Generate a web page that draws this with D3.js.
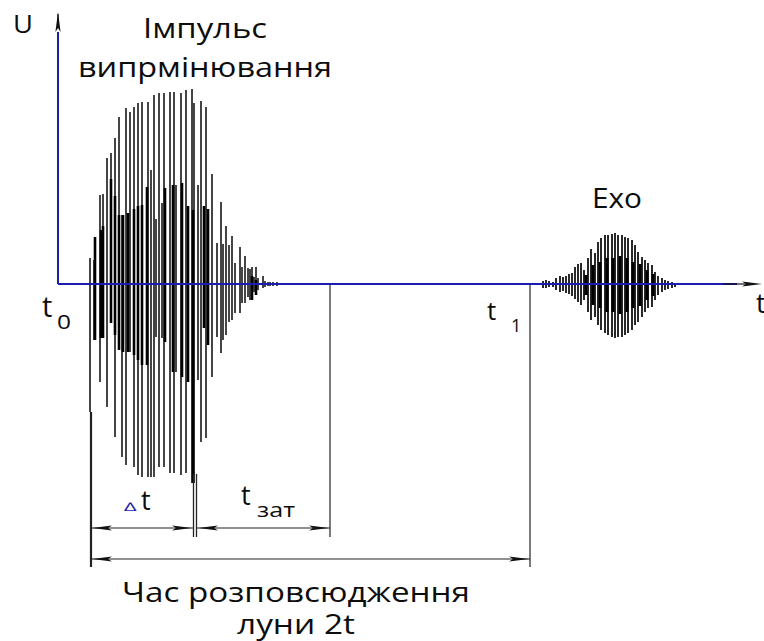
<!DOCTYPE html>
<html>
<head>
<meta charset="utf-8">
<script src="https://cdn.jsdelivr.net/npm/d3@7"></script>
<style>
  body { margin: 0; background: #fff; }
  svg { display: block; }
  text { font-family: "Open Sans", "Noto Sans", sans-serif; fill: #0d0d0d; }
</style>
</head>
<body>
<div id="chart"></div>
<script>
// probing pulse: tall thin oscillations (time, +U, -U)
const pulseT    = [32, 36, 42, 45, 49, 53, 57, 61, 64, 68, 72, 76, 80, 84, 90, 93, 96, 98, 101, 104, 106, 112, 116, 118, 123, 128, 130, 134, 136, 140, 143, 146, 148, 150, 154, 159, 163, 165, 168, 171, 174, 177, 182, 184, 187, 190, 192, 194, 196, 198, 200, 205, 207, 210, 212, 215, 219, 228, 236];
const pulseUp   = [26, 24, 89, 90, 126, 131, 146, 167, 69, 176, 172, 177, 181, 182, 182, 114, 189, 65, 191, 81, 191, 192, 192, 99, 191, 194, 78, 195, 181, 99, 183, 78, 177, 75, 110, 41, 82, 40, 58, 39, 48, 21, 37, 17, 28, 16, 15, 17, 7, 17, 6, 8, 3, 2, 2, 2, 2, 1, 1];
const pulseDown = [-128, -56, -98, -54, -123, -39, -153, -66, -173, -181, -68, -183, -191, -193, -193, -193, -193, -53, -183, -54, -183, -189, -189, -88, -191, -189, -98, -199, -199, -96, -158, -44, -154, -61, -93, -53, -69, -56, -51, -38, -36, -29, -29, -19, -19, -13, -16, -13, -8, -8, -6, -4, -3, -2, -2, -2, -2, -1, -1];

// probing pulse: thick inner oscillations
const coreT    = [37, 43, 45, 53, 57, 61, 65, 70, 76, 80, 84, 89, 107, 115, 124, 130, 135, 146, 150, 194, 198];
const coreUp   = [47, 54, 58, 105, 88, 69, 69, 71, 75, 78, 79, 97, 96, 99, 101, 78, 74, 78, 75, 8, 4];
const coreDown = [-56, -54, -54, -39, -51, -66, -68, -68, -71, -76, -81, -81, -58, -88, -93, -98, -199, -44, -61, -16, -11];

// echo signal
const echoT    = [485, 488, 491, 495, 498, 502, 505, 508, 511, 514, 517, 520, 523, 526, 530, 533, 537, 540, 543, 547, 550, 554, 557, 560, 564, 567, 570, 574, 577, 580, 584, 587, 590, 594, 597, 600, 604, 607, 610, 614, 617];
const echoUp   = [3, 4, 3, 2, 6, 8, 7, 8, 10, 11, 17, 20, 21, 14, 26, 35, 31, 42, 46, 49, 49, 50, 51, 49, 49, 47, 46, 44, 39, 32, 27, 24, 21, 19, 12, 8, 6, 4, 3, 2, 1];
const echoDown = [-4, -4, -3, -3, -6, -8, -7, -9, -10, -12, -15, -18, -21, -16, -28, -36, -33, -41, -46, -49, -51, -53, -54, -53, -53, -51, -49, -46, -41, -38, -33, -28, -24, -23, -16, -11, -8, -6, -5, -4, -3];

const echoCoreT    = [528, 535, 542, 549, 555, 562, 569, 575, 582, 589, 595];
const echoCoreUp   = [9, 19, 22, 26, 26, 28, 26, 22, 20, 14, 10];
const echoCoreDown = [-11, -21, -24, -28, -28, -30, -28, -24, -22, -16, -12];

// time marks: t0, end of pulse, end of ringing, t1
const marks = { t0: 33, dt: 137, tz: 272, t1: 472 };

const W = 764, H = 641;
const svg = d3.select("#chart").append("svg")
    .attr("width", W)
    .attr("height", H);
svg.append("rect").attr("width", W).attr("height", H).attr("fill", "#fff");

const x = d3.scaleLinear().domain([0, 700]).range([58, 758]);
const y = d3.scaleLinear().domain([-300, 284]).range([584, 0]);

const blue = "#1c1cb0";

function spikes(ts, ups, downs, color, w) {
    svg.append("g")
        .selectAll("line")
        .data(ts.map((t, i) => ({ t, up: ups[i], down: downs[i] })))
        .join("line")
            .attr("x1", d => x(d.t)).attr("x2", d => x(d.t))
            .attr("y1", d => y(d.up)).attr("y2", d => y(d.down))
            .attr("stroke", color)
            .attr("stroke-width", w);
}

spikes(pulseT, pulseUp, pulseDown, "#3c3c3c", 1.9);
spikes(coreT, coreUp, coreDown, "#000", 2.6);
spikes(echoT, echoUp, echoDown, "#111", 1.8);
spikes(echoCoreT, echoCoreUp, echoCoreDown, "#000", 3);

// extension lines
const ext = svg.append("g").attr("stroke", "#222");
ext.append("line").attr("x1", x(marks.t0)).attr("x2", x(marks.t0))
    .attr("y1", y(-128)).attr("y2", y(-283)).attr("stroke-width", 2.2);
ext.append("line").attr("x1", x(marks.dt) - 1.5).attr("x2", x(marks.dt) - 1.5)
    .attr("y1", y(-190)).attr("y2", y(-253)).attr("stroke-width", 1.3);
ext.append("line").attr("x1", x(marks.dt) + 1.5).attr("x2", x(marks.dt) + 1.5)
    .attr("y1", y(-190)).attr("y2", y(-253)).attr("stroke-width", 1.3);
ext.append("line").attr("x1", x(marks.tz)).attr("x2", x(marks.tz))
    .attr("y1", y(0)).attr("y2", y(-253)).attr("stroke-width", 1.2);
ext.append("line").attr("x1", x(marks.t1)).attr("x2", x(marks.t1))
    .attr("y1", y(0)).attr("y2", y(-283)).attr("stroke-width", 1.2);

// dimension lines with dart arrowheads
function dart(xTip, yy, dir) {
    const L = 20, h = 2.6;
    svg.append("path")
        .attr("d", `M${xTip},${yy} L${xTip + dir * L},${yy - h} L${xTip + dir * (L - 4)},${yy} L${xTip + dir * L},${yy + h} Z`)
        .attr("fill", "#111");
}
function dim(t1, t2, u) {
    const yy = y(u);
    svg.append("line").attr("x1", x(t1)).attr("x2", x(t2))
        .attr("y1", yy).attr("y2", yy)
        .attr("stroke", "#222").attr("stroke-width", 1.2);
    dart(x(t1) + 1, yy, 1);
    dart(x(t2) - 1, yy, -1);
}
dim(marks.t0, marks.dt - 2, -244);
dim(marks.dt + 2, marks.tz, -244);
dim(marks.t0, marks.t1, -275);

// axes
svg.append("line").attr("x1", x(0)).attr("x2", x(0))
    .attr("y1", y(0)).attr("y2", y(252))
    .attr("stroke", blue).attr("stroke-width", 2);
svg.append("line").attr("x1", x(0)).attr("x2", x(0))
    .attr("y1", y(258)).attr("y2", y(270))
    .attr("stroke", "#111").attr("stroke-width", 1.2);
svg.append("path")
    .attr("d", `M${x(0)},${y(272)} L${x(0) - 2.6},${y(252)} L${x(0)},${y(256)} L${x(0) + 2.6},${y(252)} Z`)
    .attr("fill", "#111");

svg.append("line").attr("x1", x(0)).attr("x2", x(679))
    .attr("y1", y(0)).attr("y2", y(0))
    .attr("stroke", blue).attr("stroke-width", 2);
svg.append("line").attr("x1", x(665)).attr("x2", x(690))
    .attr("y1", y(0)).attr("y2", y(0))
    .attr("stroke", "#111").attr("stroke-width", 1.2);
svg.append("path")
    .attr("d", `M${x(704)},${y(0)} L${x(684)},${y(2.6)} L${x(688)},${y(0)} L${x(684)},${y(-2.6)} Z`)
    .attr("fill", "#111");

// labels
function label(txt, px, py, size, opts = {}) {
    const t = svg.append("text")
        .attr("x", px).attr("y", py)
        .attr("font-size", size)
        .attr("text-anchor", opts.anchor || "start")
        .text(txt);
    if (opts.len) t.attr("textLength", opts.len).attr("lengthAdjust", "spacingAndGlyphs");
    t.style("fill", opts.fill || "#0d0d0d");
    return t;
}

label("U", 13, 33, 25, { len: 20 });
label("Імпульс", 143, 38, 28, { len: 124 });
label("випрмінювання", 78, 77, 28, { len: 254 });
label("Ехо", 592, 208, 28, { len: 50 });

label("t", 42, 317, 29);
label("0", 57, 329, 20, { len: 14 });
label("t", 487, 320, 26);
label("1", 511, 332, 18);
label("t", 756, 313, 27);

label("∆", 124, 511, 12, { len: 13, fill: blue });
label("t", 141, 510, 27);
label("t", 241, 505, 27);
label("зат", 257, 517, 20, { len: 38 });

label("Час розповсюдження", 122, 602, 28, { len: 348 });
label("луни 2t", 237, 634, 28, { len: 118 });
</script>
</body>
</html>
